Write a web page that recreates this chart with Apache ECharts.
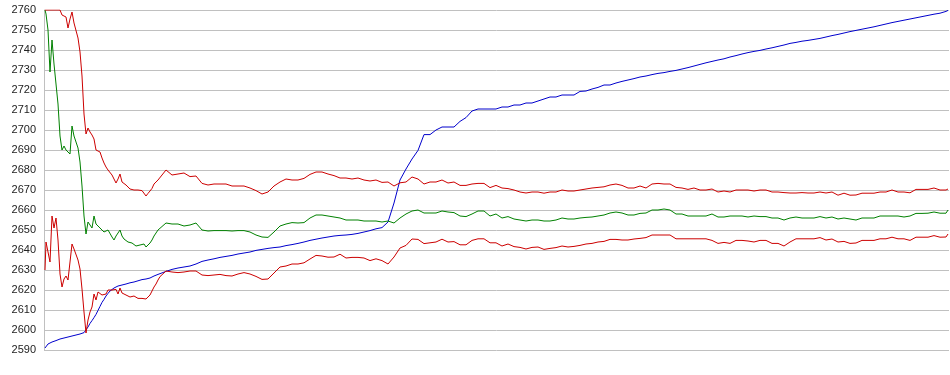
<!DOCTYPE html>
<html>
<head>
<meta charset="utf-8">
<script src="https://cdn.jsdelivr.net/npm/echarts@6/dist/echarts.min.js"></script>
<style>
html,body{margin:0;padding:0;background:#fff;}
#chart{width:950px;height:375px;}
</style>
</head>
<body>
<div id="chart"></div>
<script>
// sample positions (bar index along the hidden x axis)
var bars = [
  1,2,4,6,8,10,12,14,16,18,20,22,24,26,28,30,32,34,36,38,40,42,44,46,48,50,52,54,56,58,
  60,62,64,66,68,70,72,74,76,78,80,82,84,86,88,90,92,94,96,98,100,102,104,106,108,110,112,114,116,
  122,128,134,140,146,152,158,164,170,176,
  182,188,194,200,206,212,218,224,230,236,
  242,248,254,260,266,272,278,284,290,296,
  302,308,314,320,326,332,338,344,350,356,
  362,368,374,380,386,392,398,404,410,416,
  422,428,434,440,446,452,458,464,470,476,
  482,488,494,500,506,512,518,524,530,536,
  542,548,554,560,566,572,578,584,590,596,
  602,608,614,620,626,632,638,644,650,656,
  662,668,674,680,686,692,698,704,710,716,
  722,728,734,740,746,752,758,764,770,776,
  782,788,794,800,806,812,818,824,830,836,
  842,848,854,860,866,872,878,884,890,896,
  902,904
];

var middle = [
  2760,2758,2750,2729,2745,2733,2733,2713,2697,2690,2692,2690,2691,2688,2702,2697,2696,2691,2684,2672,
  2657,2648,2654,2655,2651,2657,2653,2653,2651,2650,2649,2650,2650,2649,2646.5,2645,2647,2647,2650,2647,
  2645.5,2645,2644,2643.5,2643.5,2643,2642,2642,2642.5,2642.5,2643,2641.5,2642.5,2643.5,2645,2647,2648.5,2650,2651,
  2653.5,2653,2653,2652,2652.5,2653.5,2650,2649.5,2649.7,2649.7,
  2649.7,2649.5,2649.7,2649.7,2649,2647.5,2646.5,2646.3,2649,2652,
  2653,2653.7,2653.5,2653.7,2656,2657.5,2657.5,2657,2656.5,2656,
  2655,2655,2655,2654.5,2654.5,2654.5,2654,2654.5,2653.5,2656,
  2658,2659.5,2660,2658.5,2658.5,2658.5,2659.5,2659,2658.7,2657,
  2656.7,2658,2659.5,2659.5,2657,2658,2656,2656.7,2655.5,2655,
  2654.5,2655,2655,2654.5,2654.5,2655,2656,2655.5,2655.5,2656,
  2656.3,2656.5,2657,2657.5,2658.5,2659,2658.5,2657.5,2657.5,2658.3,
  2658.5,2660,2660,2660.5,2660,2658,2658,2657,2657,2657,
  2657,2658,2656.5,2656.5,2657,2657,2657,2656.5,2657,2656.7,
  2656.7,2656,2656,2655,2656,2656.5,2656,2656,2656,2656.7,
  2656,2656.5,2655.5,2656,2655.5,2655,2656,2656,2656,2657,
  2657,2657,2657,2656.5,2657,2658.3,2658.3,2658.4,2659,2658.4,
  2658.4,2660
];

var upper = [
  2760,2760,2760,2760,2760,2760,2760,2760,2760,2757.5,2758.5,2756.5,2751,2755.5,2759,2753.5,2753.5,2746,2739,2727,
  2708,2698,2701,2699,2697.5,2695.5,2690,2689,2689,2686,2683.5,2681.5,2680,2679,2677.5,2677,2673.5,2675.5,2678,2674,
  2674,2672.5,2671.5,2670.5,2670.8,2670,2669.5,2670,2670,2669.7,2669.2,2667,2668.3,2669.5,2670.8,2673,2673.5,2675,2676,
  2680,2677.5,2678,2678.5,2676.7,2677,2673.3,2672.5,2673,2673,
  2673,2672,2672,2672,2671,2669.7,2668,2669,2672,2674,
  2675.5,2675,2675,2675.8,2677.8,2679,2679,2678,2677.2,2676,
  2676,2675.5,2676,2675,2674.5,2675,2673.8,2674,2672,2673.6,
  2674,2676.5,2675.5,2673,2674,2674,2675,2673.5,2674,2672.3,
  2672.3,2673,2673.3,2673.3,2671.2,2672.3,2671,2670.7,2670,2669,
  2668.5,2669,2669,2668.4,2669,2669,2670,2669.5,2669.5,2670,
  2670.5,2671,2671.3,2671.6,2672.5,2673,2672.3,2671,2671,2672,
  2671,2673,2673.3,2673,2673,2671.3,2671,2670.3,2671,2670,
  2670,2670.5,2669,2669.5,2669,2670,2670,2670,2669.5,2670,
  2670,2669,2669,2668.7,2668.5,2668.5,2668.7,2668.5,2668.5,2669,
  2668.5,2669,2667.4,2668.4,2667.4,2667.5,2668.4,2668.4,2668.4,2669,
  2669,2670,2669,2669,2668.6,2670.3,2670.3,2670.3,2671,2670,
  2670,2670.5
];

var lower = [
  2630,2644,2644,2634,2657,2651,2656,2645,2628,2621.5,2625.5,2627,2625,2626,2643,2640.5,2640,2635,2630.5,2620.5,
  2609,2598.5,2605,2609,2611.5,2618,2615,2619,2618,2617.5,2617.5,2618,2620,2619.5,2620,2619.7,2620.3,2618,2621,2618.5,
  2618,2617.5,2617.3,2616.5,2616.3,2617,2616.3,2615.8,2616.2,2615.8,2616.2,2615.5,2616,2617.5,2619.5,2621.5,2623,2625,2626.7,
  2629.5,2629,2628.7,2629,2629.5,2629.5,2627.5,2627.2,2627.5,2627.8,
  2627.2,2627,2628,2628.7,2628,2626.8,2625.3,2625.5,2628.5,2631.5,
  2632,2633,2633,2633.6,2635.5,2637.3,2637,2636.4,2636.5,2637.9,
  2636,2636.3,2636.3,2636,2634.7,2635.6,2634.7,2633,2636.5,2641,
  2642.3,2645.5,2645.3,2643.2,2643.6,2644,2645.4,2644,2644.2,2642.6,
  2642.6,2644.8,2645.6,2645.6,2643.6,2643.6,2642,2643,2641.7,2641.3,
  2640.5,2641.3,2641.5,2640.3,2640.8,2641.2,2642,2641.5,2641.8,2642.3,
  2643,2643.3,2644,2644.3,2645.3,2645.3,2645,2645,2645.5,2645.8,
  2646.2,2647.5,2647.5,2647.5,2647.5,2645.6,2645.6,2645.6,2645.6,2645.6,
  2645.6,2644.8,2643.3,2643.8,2643.3,2644.8,2644.8,2644.5,2644,2644.8,
  2644.8,2643.3,2643.3,2642,2644,2645.6,2645.6,2645.6,2645.6,2646.2,
  2645,2645.5,2644,2644.3,2643.3,2643.5,2644.8,2644.8,2644.8,2645.6,
  2645.6,2646.4,2645.6,2645.6,2644.8,2646.4,2646.4,2646.4,2647.2,2646.4,
  2646.5,2648
];

var trend = [
  2591,2592,2593,2593.5,2594,2594.5,2594.7,2595,2595.5,2595.5,2596,2596.2,2596.5,2597,2597,2597.3,2597.5,2597.8,2598,2598.3,
  2598.7,2599.5,2601.5,2603.3,2604.7,2606.2,2607.8,2609.8,2611.8,2613.8,2615.3,2617,2618.3,2619.5,2620.5,2621,2621.5,2622,2622.3,2622.5,
  2622.8,2623,2623.4,2623.6,2623.8,2624,2624.3,2624.6,2625,2625.2,2625.4,2625.5,2625.8,2626,2626.3,2627,2627.5,2627.8,2628,
  2629.3,2630.3,2631,2631.5,2632,2633,2634.3,2635,2635.6,2636.3,
  2636.8,2637.3,2638,2638.5,2639,2639.8,2640.3,2640.8,2641.2,2641.5,
  2642.2,2642.7,2643.3,2644,2644.8,2645.4,2646,2646.5,2647,2647.3,
  2647.5,2647.8,2648.3,2649,2649.7,2650.6,2651.2,2654,2663.5,2675,
  2680.5,2685.5,2689.8,2697.7,2697.7,2700,2701.5,2701.5,2701.5,2704.3,
  2706.2,2709.5,2710.5,2710.5,2710.5,2710.5,2711.5,2711.5,2712.5,2712.5,
  2713.5,2713.5,2714.5,2715.5,2716.5,2716.5,2717.5,2717.5,2717.5,2719.3,
  2719.5,2720.5,2721.3,2722.5,2722.5,2723.5,2724.3,2725,2725.7,2726.5,
  2727,2727.7,2728.3,2728.7,2729.3,2729.8,2730.5,2731.2,2732,2732.8,
  2733.6,2734.3,2735,2735.6,2736.5,2737.2,2738,2738.7,2739.3,2739.8,
  2740.5,2741.1,2741.8,2742.5,2743.3,2743.8,2744.4,2744.8,2745.3,2745.8,
  2746.5,2747.2,2747.8,2748.5,2749.2,2749.8,2750.4,2751,2751.6,2752.3,
  2753,2753.7,2754.3,2754.9,2755.5,2756.1,2756.7,2757.3,2757.9,2758.4,
  2759.3,2759.8
];

var yMin = 2590, yMax = 2760, yStep = 10;

[middle, upper, lower, trend].forEach(function (arr, k) {
  if (arr.length !== bars.length) throw new Error('length mismatch in series ' + k + ': ' + arr.length + ' vs ' + bars.length);
});

function pairs(vals) { return bars.map(function (b, i) { return [b, vals[i]]; }); }

var chart = echarts.init(document.getElementById('chart'), null, {renderer: 'canvas'});
chart.setOption({
  animation: false,
  backgroundColor: '#ffffff',
  grid: {left: 44, right: 1, top: 10, bottom: 25, containLabel: false},
  xAxis: {
    type: 'value', min: 0, max: 905, show: false
  },
  yAxis: {
    type: 'value', min: yMin, max: yMax, interval: yStep,
    axisLine: {show: true, lineStyle: {color: '#c0c0c0', width: 1}},
    axisTick: {show: false},
    axisLabel: {
      color: '#222222', fontSize: 11, fontFamily: 'Liberation Sans, Arial, sans-serif', margin: 8,
      formatter: function (v) { return String(v); }
    },
    splitLine: {show: true, lineStyle: {color: '#c0c0c0', width: 1}}
  },
  series: [
    {type: 'line', data: pairs(trend), symbol: 'none', lineStyle: {color: '#0000cc', width: 1}, itemStyle: {color: '#0000cc'}},
    {type: 'line', data: pairs(middle), symbol: 'none', lineStyle: {color: '#008000', width: 1}, itemStyle: {color: '#008000'}},
    {type: 'line', data: pairs(upper), symbol: 'none', lineStyle: {color: '#cc0000', width: 1}, itemStyle: {color: '#cc0000'}},
    {type: 'line', data: pairs(lower), symbol: 'none', lineStyle: {color: '#cc0000', width: 1}, itemStyle: {color: '#cc0000'}}
  ]
});
</script>
</body>
</html>
